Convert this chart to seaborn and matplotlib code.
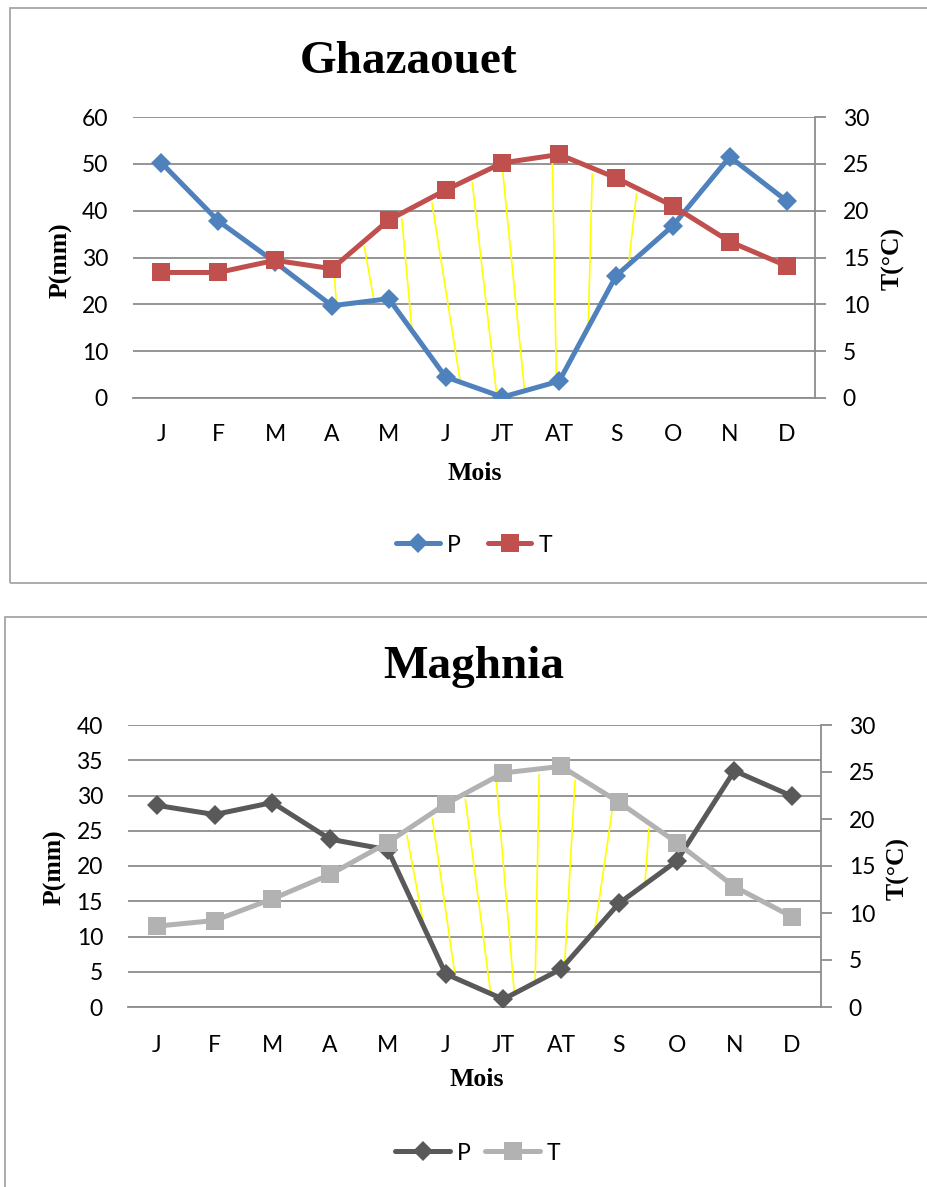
import numpy as np
import matplotlib
matplotlib.use("Agg")
import matplotlib.pyplot as plt
from matplotlib.patches import Rectangle
from matplotlib.lines import Line2D
import seaborn as sns

# ---------------------------------------------------------------- data
months = ["J", "F", "M", "A", "M", "J", "JT", "AT", "S", "O", "N", "D"]

ghaz_p = [50.2, 37.8, 29.0, 19.7, 21.2, 4.5, 0.2, 3.6, 26.1, 36.8, 51.5, 42.1]
ghaz_t = [13.4, 13.4, 14.7, 13.8, 19.0, 22.2, 25.1, 26.0, 23.5, 20.5, 16.7, 14.1]

magh_p = [28.6, 27.3, 29.0, 23.8, 22.3, 4.7, 1.1, 5.4, 14.7, 20.7, 33.5, 29.9]
magh_t = [8.6, 9.2, 11.5, 14.1, 17.5, 21.6, 24.9, 25.6, 21.8, 17.5, 12.8, 9.6]

# dry-season hatching strokes: month position where each stroke leaves the
# T curve, and month position where it meets the P curve
ghaz_hatch_from = [3.04, 3.57, 4.23, 4.76, 5.47, 6.00, 6.88, 7.58, 8.36]
ghaz_hatch_to = [3.08, 3.74, 4.41, 5.26, 5.90, 6.39, 6.95, 7.51, 8.22]

magh_hatch_from = [4.33, 4.77, 5.34, 5.88, 6.62, 7.24, 7.90, 8.52]
magh_hatch_to = [4.63, 5.17, 5.78, 6.19, 6.55, 7.06, 7.58, 8.45]

# ---------------------------------------------------------------- style
sns.set_theme(style="white")
plt.rcParams["font.family"] = ["Lato", "DejaVu Sans"]
plt.rcParams["text.color"] = "black"
plt.rcParams["xtick.labelcolor"] = "black"
plt.rcParams["ytick.labelcolor"] = "black"

W, H = 928, 1187
fig = plt.figure(figsize=(W / 100, H / 100), dpi=100)

GRID = "#8C8C8C"
SERIF = ["Liberation Serif", "DejaVu Serif"]
TICK_FS = 16.5
LABEL_FS = 18.5


def fx(px):
    return px / W


def fy(py):
    return 1 - py / H


def panel(box, ax_px, title, title_xy, p, t, p_max, p_step, t_max, t_step,
          p_color, t_color, hatch_from, hatch_to, xtick_marks, xpad,
          mois_xy, plabel_xy, tlabel_xy, legend_xy, handlelength, colspace):
    # outer frame of the chart area
    x0, y0, x1, y1 = box
    fig.add_artist(Rectangle((fx(x0), fy(y1)), fx(x1 - x0), (y1 - y0) / H,
                             transform=fig.transFigure, fill=False,
                             edgecolor="#A6A6A6", lw=1.3, clip_on=False))

    l, t_, r, b = ax_px
    ax = fig.add_axes([fx(l), fy(b), fx(r - l), (b - t_) / H])
    ax2 = ax.twinx()

    xs = np.arange(len(months))

    # dry-season strokes between T (scaled to the P axis) and P
    scale = p_max / t_max
    t_scaled = np.array(t) * scale
    for a, c in zip(hatch_from, hatch_to):
        y_top = np.interp(a, xs, t_scaled) - 0.02 * p_max
        y_bot = np.interp(c, xs, p)
        ax.plot([a, c], [y_top, y_bot], color="#FFFF00", lw=1.2, zorder=2)

    sns.lineplot(x=xs, y=p, ax=ax, color=p_color, lw=3.6, marker="D",
                 markersize=10, markeredgewidth=0, legend=False, zorder=3)
    sns.lineplot(x=xs, y=t, ax=ax2, color=t_color, lw=3.6, marker="s",
                 markersize=13.5, markeredgewidth=0, legend=False, zorder=3)

    ax.set_xlim(-0.5, len(months) - 0.5)
    ax.set_ylim(0, p_max)
    ax2.set_ylim(0, t_max)
    ax.set_yticks(np.arange(0, p_max + 0.1, p_step))
    ax2.set_yticks(np.arange(0, t_max + 0.1, t_step))

    ax.set_xticks(xs, minor=True)
    ax.set_xticklabels(months, minor=True)
    if xtick_marks:
        ax.set_xticks(np.arange(-0.5, len(months)))
        ax.tick_params(axis="x", which="major", length=7, width=1.3,
                       color=GRID, direction="out", labelbottom=False)
    else:
        ax.set_xticks([])
    ax.tick_params(axis="x", which="minor", length=0, pad=xpad,
                   labelsize=TICK_FS, labelcolor="black")
    ax.tick_params(axis="y", length=0, pad=18, labelsize=TICK_FS,
                   labelcolor="black")
    ax2.tick_params(axis="y", length=8, width=1.3, color=GRID, pad=12,
                    labelsize=TICK_FS, direction="out", labelcolor="black")

    ax.yaxis.grid(True, color=GRID, lw=1.3)
    ax.xaxis.grid(False)
    ax2.grid(False)
    ax.set_axisbelow(True)

    for s in ("left", "top", "right"):
        ax.spines[s].set_visible(False)
    ax.spines["bottom"].set_color(GRID)
    ax.spines["bottom"].set_linewidth(1.3)
    for s in ("left", "top", "bottom"):
        ax2.spines[s].set_visible(False)
    ax2.spines["right"].set_color(GRID)
    ax2.spines["right"].set_linewidth(1.3)
    ax.set_xlabel("")
    ax.set_ylabel("")
    ax2.set_ylabel("")
    ax.patch.set_visible(False)
    ax2.patch.set_visible(False)

    fig.text(fx(title_xy[0]), fy(title_xy[1]), title, family=SERIF,
             weight="bold", fontsize=34, ha="center", va="center",
             color="black")
    fig.text(fx(mois_xy[0]), fy(mois_xy[1]), "Mois", family=SERIF,
             weight="bold", fontsize=LABEL_FS, ha="center", va="center",
             color="black")
    fig.text(fx(plabel_xy[0]), fy(plabel_xy[1]), "P(mm)", family=SERIF,
             weight="bold", fontsize=LABEL_FS, ha="center", va="center",
             rotation=90, color="black")
    fig.text(fx(tlabel_xy[0]), fy(tlabel_xy[1]), "T(°C)", family=SERIF,
             weight="bold", fontsize=LABEL_FS, ha="center", va="center",
             rotation=90, color="black")

    handles = [
        Line2D([], [], color=p_color, lw=3.6, marker="D", markersize=10,
               markeredgewidth=0),
        Line2D([], [], color=t_color, lw=3.6, marker="s", markersize=13.5,
               markeredgewidth=0),
    ]
    fig.legend(handles, ["P", "T"], loc="center",
               bbox_to_anchor=(fx(legend_xy[0]), fy(legend_xy[1])),
               ncol=2, frameon=False, fontsize=TICK_FS,
               handlelength=handlelength, handletextpad=0.3,
               columnspacing=colspace, labelcolor="black")


panel(box=(10, 8, 1000, 583), ax_px=(133, 117, 815, 398),
      title="Ghazaouet", title_xy=(409, 62),
      p=ghaz_p, t=ghaz_t, p_max=60, p_step=10, t_max=30, t_step=5,
      p_color="#4F81BD", t_color="#C0504D",
      hatch_from=ghaz_hatch_from, hatch_to=ghaz_hatch_to,
      xtick_marks=True, xpad=19,
      mois_xy=(475, 474), plabel_xy=(61, 260), tlabel_xy=(893, 258),
      legend_xy=(474, 545), handlelength=1.9, colspace=1.2)

panel(box=(5, 617, 1000, 1300), ax_px=(128, 725, 821, 1007),
      title="Maghnia", title_xy=(474, 667),
      p=magh_p, t=magh_t, p_max=40, p_step=5, t_max=30, t_step=5,
      p_color="#595959", t_color="#B2B2B2",
      hatch_from=magh_hatch_from, hatch_to=magh_hatch_to,
      xtick_marks=False, xpad=20,
      mois_xy=(477, 1080), plabel_xy=(55, 867), tlabel_xy=(898, 868),
      legend_xy=(478, 1153), handlelength=2.4, colspace=0.6)

fig.savefig("out.png", dpi=100)
